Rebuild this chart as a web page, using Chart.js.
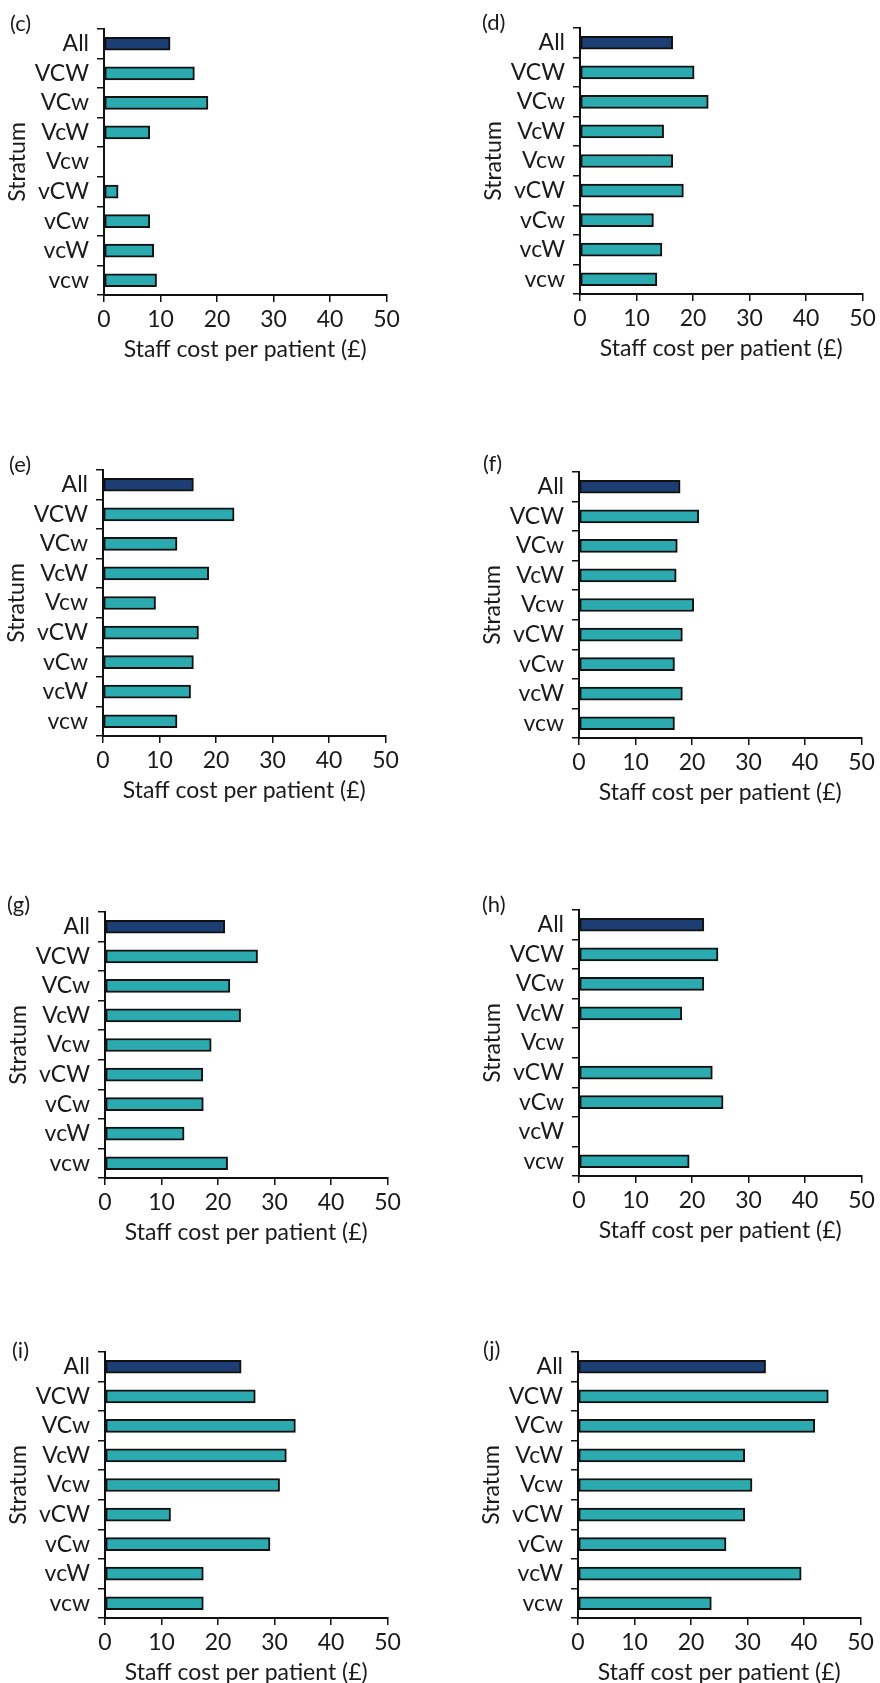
<!DOCTYPE html>
<html>
<head>
<meta charset="utf-8">
<script src="https://cdn.jsdelivr.net/npm/chart.js@4.4.1/dist/chart.umd.min.js"></script>
<style>
  html, body { margin: 0; padding: 0; background: #fff; }
  #page { position: relative; width: 880px; height: 1683px; overflow: hidden; background: #fff; }
  #page canvas { position: absolute; }
</style>
</head>
<body>
<div id="page"></div>
<script>
// categories and values
const strata = ["All", "VCW", "VCw", "VcW", "Vcw", "vCW", "vCw", "vcW", "vcw"];
const xTicks = [0, 10, 20, 30, 40, 50];

const costC = [11.7, 16.0, 18.4, 8.1, null, 2.5, 8.1, 8.8, 9.3];
const costD = [16.4, 20.2, 22.7, 14.8, 16.4, 18.3, 13.0, 14.5, 13.6];
const costE = [16.0, 23.2, 13.1, 18.7, 9.3, 16.9, 16.0, 15.5, 13.1];
const costF = [17.9, 21.2, 17.4, 17.2, 20.3, 18.3, 16.9, 18.3, 16.9];
const costG = [21.2, 27.0, 22.1, 24.0, 18.8, 17.3, 17.4, 14.0, 21.7];
const costH = [22.1, 24.6, 22.1, 18.2, null, 23.6, 25.5, null, 19.5];
const costI = [24.1, 26.6, 33.7, 32.1, 30.9, 11.6, 29.2, 17.4, 17.4];
const costJ = [33.2, 44.3, 41.9, 29.5, 30.8, 29.5, 26.2, 39.5, 23.6];

// geometry (page px): plot-area corner of every panel
const panels = [
  { label: "(c)", values: costC, left: 104, top: 29, lx: 10, ly: 25 },
  { label: "(d)", values: costD, left: 580, top: 28, lx: 6, ly: 25 },
  { label: "(e)", values: costE, left: 103, top: 470, lx: 10, ly: 25 },
  { label: "(f)", values: costF, left: 579, top: 472, lx: 8, ly: 22 },
  { label: "(g)", values: costG, left: 105, top: 912, lx: 6, ly: 23 },
  { label: "(h)", values: costH, left: 579, top: 910, lx: 7, ly: 25 },
  { label: "(i)", values: costI, left: 105, top: 1352, lx: 11, ly: 29 },
  { label: "(j)", values: costJ, left: 578, top: 1352, lx: 9, ly: 28 },
];

const CANVAS_W = 404, CANVAS_H = 420;
const AXIS_W = 104, PAD_TOP = 30, PLOT_W = 282.5, PLOT_H = 266, XAXIS_H = 68;
const INK = "#1a1a1a";
const ALL_COLOR = "#1d3e72";
const STRATUM_COLOR = "#2baab0";
const FONT = "Lato";

Chart.defaults.font.family = FONT;
Chart.defaults.color = INK;

const panelLabel = {
  id: "panelLabel",
  afterDraw(chart, args, opts) {
    const ctx = chart.ctx;
    ctx.save();
    ctx.font = `22px ${FONT}`;
    ctx.fillStyle = INK;
    ctx.textAlign = "left";
    ctx.textBaseline = "middle";
    ctx.fillText(opts.text, opts.x, opts.y);
    ctx.restore();
  },
};

const page = document.getElementById("page");

panels.forEach((p) => {
  const canvas = document.createElement("canvas");
  canvas.width = CANVAS_W;
  canvas.height = CANVAS_H;
  canvas.style.left = (p.left - AXIS_W) + "px";
  canvas.style.top = (p.top - PAD_TOP) + "px";
  page.appendChild(canvas);

  new Chart(canvas.getContext("2d"), {
    type: "bar",
    data: {
      labels: strata,
      datasets: [{
        data: p.values,
        backgroundColor: strata.map((s, i) => (i === 0 ? ALL_COLOR : STRATUM_COLOR)),
        borderColor: "#111",
        borderWidth: 2,
        borderSkipped: false,
        barThickness: 13,
      }],
    },
    options: {
      indexAxis: "y",
      responsive: false,
      animation: false,
      devicePixelRatio: 1,
      layout: {
        padding: {
          left: 0,
          top: PAD_TOP,
          right: CANVAS_W - AXIS_W - PLOT_W,
          bottom: CANVAS_H - PAD_TOP - PLOT_H - XAXIS_H,
        },
      },
      plugins: {
        legend: { display: false },
        tooltip: { enabled: false },
        panelLabel: { text: p.label, x: p.lx, y: p.ly },
      },
      scales: {
        x: {
          type: "linear",
          min: 0,
          max: 50,
          afterBuildTicks: (scale) => {
            scale.ticks = xTicks.map((v) => ({ value: v }));
          },
          afterFit: (scale) => {
            scale.height = XAXIS_H;
            scale.paddingLeft = 0;
            scale.paddingRight = 0;
          },
          grid: { drawOnChartArea: false, tickLength: 7, color: "#111", lineWidth: 1.5 },
          border: { color: "#111", width: 2 },
          ticks: { padding: 4, color: INK, font: { size: 23 }, autoSkip: false, maxRotation: 0 },
          title: {
            display: true,
            text: "Staff cost per patient (£)",
            color: INK,
            font: { size: 23 },
            padding: 0,
          },
        },
        y: {
          type: "category",
          afterFit: (scale) => {
            scale.width = AXIS_W;
            scale.paddingTop = 0;
            scale.paddingBottom = 0;
          },
          grid: { drawOnChartArea: false, tickLength: 7, color: "#111", lineWidth: 1.5 },
          border: { color: "#111", width: 2 },
          ticks: { padding: 8, color: INK, font: { size: 23 }, autoSkip: false },
          title: {
            display: true,
            text: "Stratum",
            color: INK,
            font: { size: 23 },
            padding: { top: 4, bottom: 0 },
          },
        },
      },
    },
    plugins: [panelLabel],
  });
});
</script>
</body>
</html>
